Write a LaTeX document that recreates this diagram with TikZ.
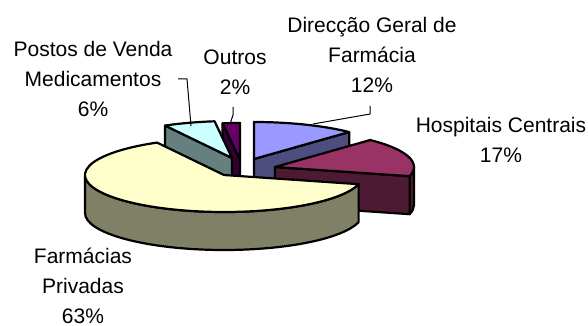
\documentclass[tikz,border=0pt]{standalone}
\usepackage{fontspec}
\setmainfont{Liberation Sans}
\usetikzlibrary{arrows}

\definecolor{dgf top}{HTML}{9999FF}
\definecolor{dgf side}{HTML}{4D4D80}
\definecolor{hc top}{HTML}{993366}
\definecolor{hc side}{HTML}{4D1A33}
\definecolor{fp top}{HTML}{FFFFCC}
\definecolor{fp side}{HTML}{808066}
\definecolor{pv top}{HTML}{CCFFFF}
\definecolor{pv side}{HTML}{668080}
\definecolor{ou top}{HTML}{660066}
\definecolor{ou side}{HTML}{330033}

\begin{document}
\begin{tikzpicture}[x=0.5pt,y=-0.5pt,line join=round,
  face/.style={draw=black,line width=1.1pt},
  leader/.style={draw=black,line width=0.5pt},
  rim/.style={x radius=139,y radius=37},
  label node/.style={align=center,font=\fontsize{10.5}{15}\selectfont,inner sep=0pt}]

  \useasboundingbox (0,0) rectangle (588,326);

  % Direccao Geral de Farmacia
  \path[face,fill=dgf side] (254,159) -- ++(-46.8:139 and 37) -- ++(0,38) -- (254,197) -- cycle;
  \path[face,fill=dgf top] (254,159) -- ++(-90:139 and 37)
    arc[rim,start angle=-90,end angle=-46.8] -- cycle;

  % Outros
  \path[face,fill=ou side] (240,160) -- ++(262.8:139 and 37) -- ++(0,38) -- (240,198) -- cycle;
  \path[face,fill=ou top] (240,160) -- ++(262.8:139 and 37)
    arc[rim,start angle=262.8,end angle=270] -- cycle;

  % Postos de Venda
  \path[face,fill=pv side] (232,158) -- ++(241.2:139 and 37) -- ++(0,38) -- (232,196) -- cycle;
  \path[face,fill=pv top] (232,158) -- ++(241.2:139 and 37)
    arc[rim,start angle=241.2,end angle=262.8] -- cycle;

  % Hospitais Centrais
  \path[face,fill=hc side] (275,167) ++(0:139 and 37)
    arc[rim,start angle=0,end angle=14.4] -- ++(0,38)
    arc[rim,start angle=14.4,end angle=0] -- cycle;
  \path[face,fill=hc side] (275,167) -- ++(14.4:139 and 37) -- ++(0,38) -- (275,205) -- cycle;
  \path[face,fill=hc top] (275,167) -- ++(-46.8:139 and 37)
    arc[rim,start angle=-46.8,end angle=14.4] -- cycle;

  % Farmacias Privadas
  \path[face,fill=fp side] (224,175) ++(14.4:139 and 37)
    arc[rim,start angle=14.4,end angle=180] -- ++(0,38)
    arc[rim,start angle=180,end angle=14.4] -- cycle;
  \path[face,fill=fp top] (224,175) -- ++(14.4:139 and 37)
    arc[rim,start angle=14.4,end angle=241.2] -- cycle;

  \node[label node] (dgf) at (372,55) {Direcção Geral de\\Farmácia\\12\%};
  \node[label node] (hc) at (501,140) {Hospitais Centrais\\17\%};
  \node[label node] (pv) at (93,79) {Postos de Venda\\Medicamentos\\6\%};
  \node[label node] (ou) at (235,72) {Outros\\2\%};
  \node[label node] (fp) at (83,286) {Farmácias\\Privadas\\63\%};

  \coordinate (dgf a) at (370,106);
  \coordinate (dgf b) at (370,114);
  \coordinate (dgf c) at (313,124);
  \coordinate (pv a) at (178,79);
  \coordinate (pv b) at (187,79);
  \coordinate (pv c) at (191,126);
  \coordinate (ou a) at (233,107);
  \coordinate (ou b) at (233,115);
  \coordinate (ou c) at (230,124);

  \path[leader] (dgf a) -- (dgf b) -- (dgf c);
  \path[leader] (pv a) -- (pv b) -- (pv c);
  \path[leader] (ou a) -- (ou b) -- (ou c);

\end{tikzpicture}
\end{document}
